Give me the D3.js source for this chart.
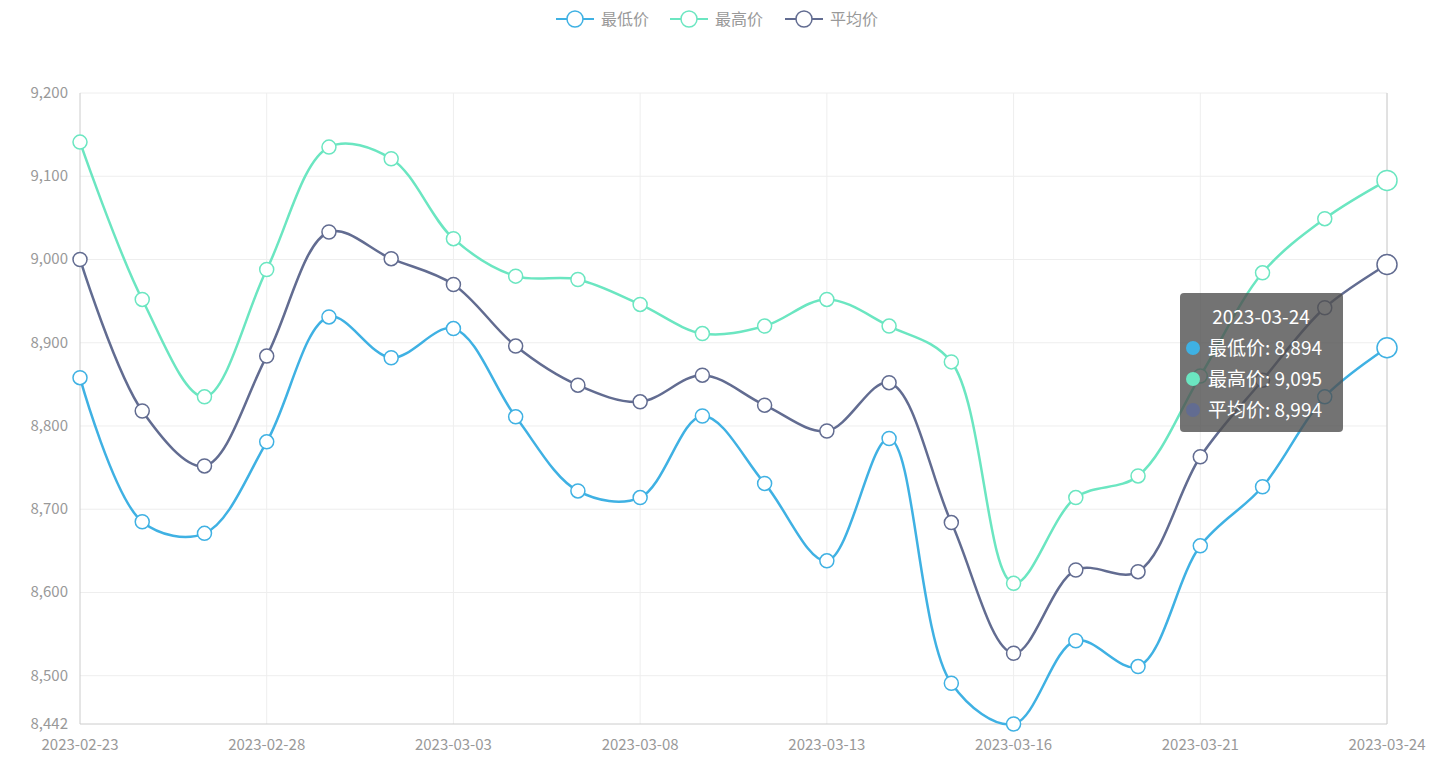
<!DOCTYPE html>
<html><head><meta charset="utf-8">
<script src="https://cdn.jsdelivr.net/npm/d3@7"></script>
<style>body{margin:0;background:#fff;font-family:"Microsoft YaHei","Noto Sans CJK SC",sans-serif}</style>
</head><body><svg id="c" width="1452" height="761"></svg>
<script>
const dates=["2023-02-23","2023-02-24","2023-02-27","2023-02-28","2023-03-01","2023-03-02","2023-03-03","2023-03-06","2023-03-07","2023-03-08","2023-03-09","2023-03-10","2023-03-13","2023-03-14","2023-03-15","2023-03-16","2023-03-17","2023-03-20","2023-03-21","2023-03-22","2023-03-23","2023-03-24"];
const lowVals=[8858,8685,8671,8781,8931,8882,8917,8811,8722,8714,8812,8731,8638,8785,8491,8442,8542,8511,8656,8727,8835,8894];
const highVals=[9141,8952,8835,8988,9135,9121,9025,8980,8976,8946,8911,8920,8952,8920,8877,8611,8714,8740,8860,8984,9049,9095];
const avgVals=[9000,8818,8752,8884,9033,9001,8970,8896,8849,8829,8861,8825,8794,8852,8684,8527,8627,8625,8763,8855,8942,8994];
const yTicks=[8442,8500,8600,8700,8800,8900,9000,9100,9200];
const xTickIdx=[0,3,6,9,12,15,18,21];
const seriesNames=["最低价","最高价","平均价"];
const colors=["#3fb1e3","#6be6c1","#626c91"];
const series=[lowVals,highVals,avgVals];

const svg=d3.select("#c");
const L=80,R=1387,T=93,B=724;
const x=d3.scalePoint().domain(dates).range([L,R]);
const y=d3.scaleLinear().domain([8442,9200]).range([B,T]);
const fmt=d3.format(",");
// grid
svg.append("g").selectAll("line").data(yTicks.slice(1)).join("line")
 .attr("x1",L).attr("x2",R).attr("y1",d=>y(d)).attr("y2",d=>y(d)).attr("stroke","#eee");
svg.append("g").selectAll("line").data(xTickIdx.slice(1)).join("line")
 .attr("x1",i=>x(dates[i])).attr("x2",i=>x(dates[i])).attr("y1",T).attr("y2",B).attr("stroke","#eee");
svg.append("line").attr("x1",L).attr("x2",L).attr("y1",T).attr("y2",B).attr("stroke","#ccc");
svg.append("line").attr("x1",L).attr("x2",R).attr("y1",B).attr("y2",B).attr("stroke","#ccc");
svg.append("line").attr("x1",R).attr("x2",R).attr("y1",T).attr("y2",B).attr("stroke","#ccc");
svg.append("g").selectAll("text").data(yTicks).join("text")
 .attr("x",L-12).attr("y",d=>y(d)+5).attr("text-anchor","end").attr("fill","#999").attr("font-size",15).text(d=>fmt(d));
svg.append("g").selectAll("text").data(xTickIdx).join("text")
 .attr("x",i=>x(dates[i])).attr("y",B+26).attr("text-anchor","middle").attr("fill","#999").attr("font-size",15).text(i=>dates[i]);
const line=d3.line().x((d,i)=>x(dates[i])).y(d=>y(d)).curve(d3.curveCatmullRom.alpha(0.5));
series.forEach((s,k)=>{
 svg.append("path").attr("d",line(s)).attr("fill","none").attr("stroke",colors[k]).attr("stroke-width",2.5);
});
series.forEach((s,k)=>{
 svg.append("g").selectAll("circle").data(s).join("circle")
  .attr("cx",(d,i)=>x(dates[i])).attr("cy",d=>y(d)).attr("r",(d,i)=>i===s.length-1?10:7)
  .attr("fill","#fff").attr("stroke",colors[k]).attr("stroke-width",1.5);
});
// legend
const lg=svg.append("g");
const lx=[556,670,785];
seriesNames.forEach((n,k)=>{
 const g=lg.append("g").attr("transform",`translate(${lx[k]},19)`);
 g.append("line").attr("x1",0).attr("x2",38).attr("stroke",colors[k]).attr("stroke-width",2);
 g.append("circle").attr("cx",19).attr("r",8).attr("fill","#fff").attr("stroke",colors[k]).attr("stroke-width",1.5);
 g.append("text").attr("x",45).attr("y",6).attr("fill","#999").attr("font-size",16).text(n);
});
// tooltip
const last=dates.length-1;
const tg=svg.append("g").attr("transform","translate(1180,293)");
tg.append("rect").attr("width",163).attr("height",139).attr("rx",4).attr("fill","rgba(80,80,80,0.8)");
tg.append("text").attr("x",81).attr("y",31).attr("text-anchor","middle").attr("fill","#fff").attr("font-size",19).text(dates[last]);
seriesNames.forEach((n,k)=>{
 tg.append("circle").attr("cx",13).attr("cy",55+k*31).attr("r",7).attr("fill",colors[k]);
 tg.append("text").attr("x",28).attr("y",62+k*31).attr("fill","#fff").attr("font-size",19).text(n+": "+fmt(series[k][last]));
});
</script></body></html>
